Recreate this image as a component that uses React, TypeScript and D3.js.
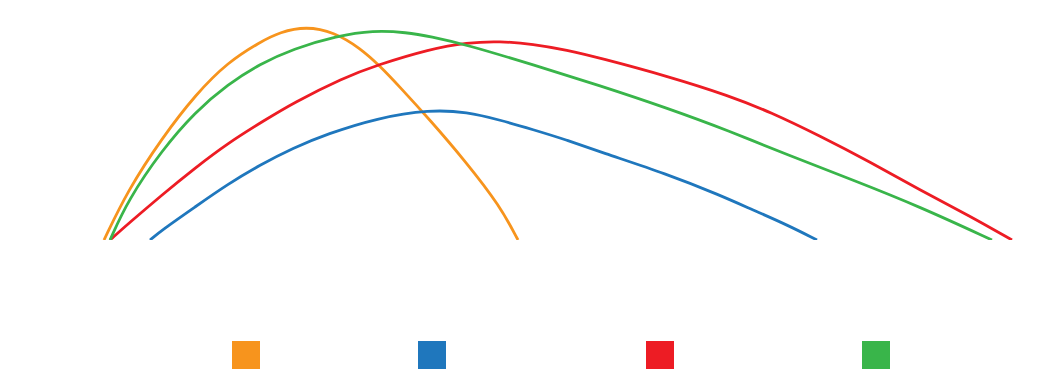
import React from 'react';
import * as d3 from 'd3';

// distance (x) and height (y)
const orangeX = [0, 6, 14.5, 23, 31, 39, 44, 50.5, 57.5, 64, 69, 74, 81.5, 90.5, 99, 103.5];
const orangeY = [0, 12.5, 25.5, 36.5, 44.5, 49.5, 52, 53.4, 52, 48, 43.5, 38.2, 30, 19.5, 8.5, 0];

const blueX = [11.5, 14.5, 22.75, 31, 39, 47.25, 55.75, 68.25, 81.5, 90.75, 99, 107.25, 115.75, 124, 140.75, 154, 162.25, 170.75, 178.25];
const blueY = [0, 2.5, 8.25, 14, 18.75, 23, 26.5, 30.5, 32.6, 32, 30, 27.6, 25, 22, 16.5, 11.2, 7.5, 3.8, 0];

const redX = [1.5, 6, 14.5, 22.75, 31, 40.25, 47.25, 59.75, 68.25, 81.5, 90.75, 99, 107.25, 115.75, 124, 140.75, 156.5, 166.5, 179, 191.5, 204, 216.5, 227];
const redY = [0, 4, 11.3, 18, 24.25, 30, 34.25, 40.5, 43.75, 47.75, 49.4, 49.7, 49, 47.5, 45.5, 41, 36, 32, 26, 19.5, 12.5, 6, 0];

const greenX = [1.5, 6, 14.5, 22.75, 31, 39, 47.25, 58.25, 67.25, 75.75, 81.5, 90.75, 107.25, 124, 140.75, 156.5, 170.75, 187.25, 204, 222];
const greenY = [0, 10, 22.5, 32, 39, 44, 47.8, 51, 52.4, 51.9, 50.9, 48.8, 43.8, 38.6, 33, 27.2, 21.3, 15, 8.3, 0];

const seriesNames = ['orange', 'blue', 'red', 'green'];
const seriesColors = ['#f7941d', '#1f77bd', '#ed1c24', '#39b54a'];
const legendPos = [232, 418, 646, 862];

const width = 1038;
const height = 374;
const margin = { top: 20, right: 14, bottom: 134, left: 104 };

const App: React.FC = () => {
  const svgRef = React.useRef<SVGSVGElement>(null);

  React.useEffect(() => {
    if (!svgRef.current) return;
    const svg = d3.select(svgRef.current);
    svg.selectAll('*').remove();

    const innerWidth = width - margin.left - margin.right;
    const innerHeight = height - margin.top - margin.bottom;

    const xScale = d3.scaleLinear().domain([0, 230]).range([0, innerWidth]);
    const yScale = d3.scaleLinear().domain([0, 55]).range([innerHeight, 0]);

    const series = [
      { xs: orangeX, ys: orangeY },
      { xs: blueX, ys: blueY },
      { xs: redX, ys: redY },
      { xs: greenX, ys: greenY }
    ];

    svg.append('defs').append('clipPath')
      .attr('id', 'plot-clip')
      .append('rect')
      .attr('x', -margin.left)
      .attr('y', -margin.top)
      .attr('width', width)
      .attr('height', innerHeight + margin.top);

    const g = svg.append('g')
      .attr('transform', `translate(${margin.left},${margin.top})`);

    const line = d3.line<[number, number]>()
      .x(d => xScale(d[0]))
      .y(d => yScale(d[1]))
      .curve(d3.curveBasis);

    // Draw trajectories
    series.forEach((s, i) => {
      const pts = s.xs.map((x, j) => [x, s.ys[j]] as [number, number]);
      g.append('path')
        .datum(pts)
        .attr('clip-path', 'url(#plot-clip)')
        .attr('fill', 'none')
        .attr('stroke', seriesColors[i])
        .attr('stroke-width', 2.8)
        .attr('d', line);
    });

    // Legend swatches (labels are not shown in the reference)
    svg.append('g')
      .selectAll('rect')
      .data(seriesNames)
      .enter().append('rect')
      .attr('x', (_, i) => legendPos[i])
      .attr('y', 341)
      .attr('width', 28)
      .attr('height', 28)
      .attr('fill', (_, i) => seriesColors[i]);
  }, []);

  return (
    <svg
      ref={svgRef}
      width={width}
      height={height}
      style={{ position: 'absolute', left: 0, top: 0, background: '#fff' }}
    />
  );
};

export default App;
